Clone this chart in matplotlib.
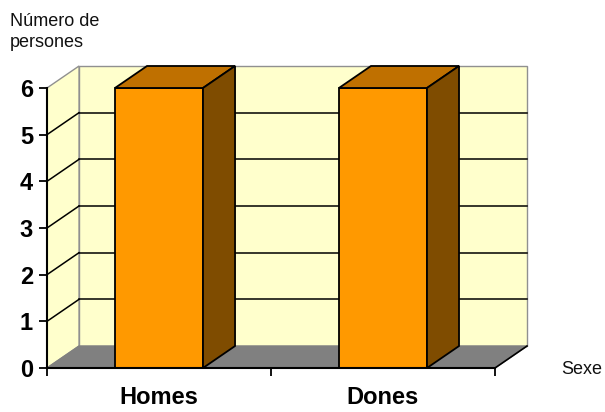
import matplotlib.pyplot as plt
from matplotlib.patches import Polygon

categories = ['Homes', 'Dones']
persons = [6, 6]
y_ticks = [0, 1, 2, 3, 4, 5, 6]

# depth of the 3d box (data units) and bar width (fraction of a category)
DX, DY = 0.143, 0.471
BAR_W = 0.393

WALL = '#FFFFCC'
FLOOR = '#808080'
FRONT = '#FF9900'
TOP = '#BF7000'
SIDE = '#7F4C00'

plt.rcParams['font.family'] = ['Liberation Sans', 'DejaVu Sans']

fig = plt.figure(figsize=(6.05, 4.12), dpi=100)
ax = fig.add_axes([47 / 605, 44 / 412, 480 / 605, 302 / 412])
n = len(categories)
ymax = y_ticks[-1]
ax.set_xlim(0, n + DX)
ax.set_ylim(0, ymax + DY)


def poly(pts, fc, ec, lw=1.0, z=1):
    ax.add_patch(Polygon(pts, closed=True, facecolor=fc, edgecolor=ec,
                         linewidth=lw, clip_on=False, zorder=z))


# walls and floor
poly([(DX, DY), (n + DX, DY), (n + DX, ymax + DY), (DX, ymax + DY)], WALL, '#909090')
poly([(0, 0), (DX, DY), (DX, ymax + DY), (0, ymax)], WALL, '#909090')
poly([(0, 0), (n, 0), (n + DX, DY), (DX, DY)], FLOOR, FLOOR)
ax.plot([n, n + DX], [0, DY], color='black', lw=1.2, clip_on=False, zorder=2)

# gridlines on left and back walls
for v in y_ticks[1:-1]:
    ax.plot([0, DX], [v, v + DY], color='black', lw=1.1, zorder=2, clip_on=False)
    ax.plot([DX, n + DX], [v + DY, v + DY], color='black', lw=1.1, zorder=2, clip_on=False)

# 3d bars
for i, v in enumerate(persons):
    x0 = i + 0.5 - BAR_W / 2
    x1 = x0 + BAR_W
    poly([(x0, 0), (x1, 0), (x1, v), (x0, v)], FRONT, 'black', 1.3, 3)
    poly([(x0, v), (x1, v), (x1 + DX, v + DY), (x0 + DX, v + DY)], TOP, 'black', 1.3, 3)
    poly([(x1, 0), (x1 + DX, DY), (x1 + DX, v + DY), (x1, v)], SIDE, 'black', 1.3, 3)

# axes
for s in ['top', 'right']:
    ax.spines[s].set_visible(False)
ax.spines['left'].set_bounds(0, ymax)
ax.spines['bottom'].set_bounds(0, n)
for s in ['left', 'bottom']:
    ax.spines[s].set_linewidth(1.5)
    ax.spines[s].set_zorder(4)

ax.set_yticks(y_ticks)
ax.set_yticklabels([str(t) for t in y_ticks], fontsize=17, fontweight='bold')
ax.tick_params(axis='y', length=6, width=1.3, pad=4)

ax.set_xticks(range(n + 1))
ax.set_xticklabels([])
ax.set_xticks([i + 0.5 for i in range(n)], minor=True)
ax.set_xticklabels(categories, minor=True, fontsize=17, fontweight='bold')
ax.tick_params(axis='x', which='major', length=6, width=1.3)
ax.tick_params(axis='x', which='minor', length=0, pad=13)

fig.text(10 / 605, 1 - 13 / 412, 'Número de\npersones', fontsize=13,
         ha='left', va='top', linespacing=1.3, color='#111111')
fig.text(561 / 605, 1 - 374 / 412, 'Sexe', fontsize=13, ha='left', va='baseline',
         color='#111111')

fig.savefig('out.png', dpi=100)
